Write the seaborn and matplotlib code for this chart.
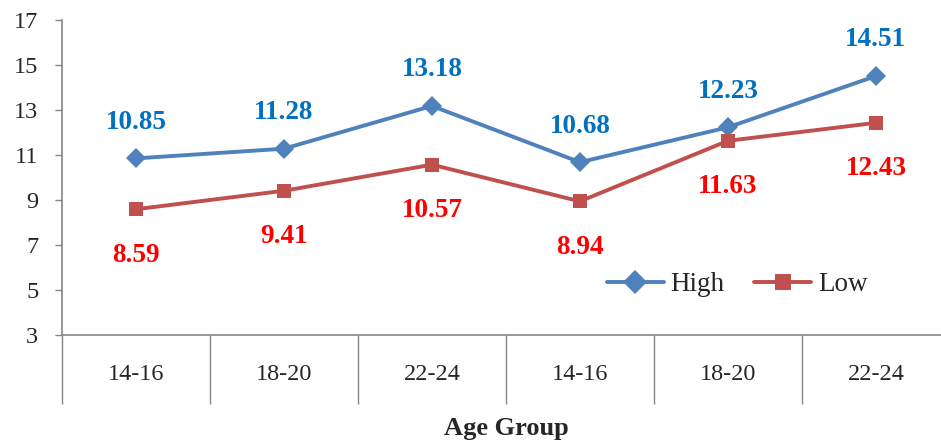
import pandas as pd               # data table
import matplotlib.pyplot as plt   # plotting
import seaborn as sns             # line plot

# values
age_groups = ["14-16", "18-20", "22-24", "14-16", "18-20", "22-24"]
high_vals = [10.85, 11.28, 13.18, 10.68, 12.23, 14.51]
low_vals = [8.59, 9.41, 10.57, 8.94, 11.63, 12.43]
y_ticks = [3, 5, 7, 9, 11, 13, 15, 17]

# long table for seaborn
pos = list(range(len(age_groups)))
df = pd.DataFrame({
    "pos": pos + pos,
    "value": high_vals + low_vals,
    "group": ["High"] * len(pos) + ["Low"] * len(pos),
})

sns.set_style("white")
plt.rcParams["font.family"] = ["Liberation Serif", "DejaVu Serif"]

fig = plt.figure(figsize=(9.41, 4.43), dpi=100)
ax = fig.add_axes([62 / 941, 1 - 335 / 443, 879 / 941, 315 / 443])

line_colors = {"High": "#4F81BD", "Low": "#C0504D"}
sns.lineplot(data=df, x="pos", y="value", hue="group", style="group",
             markers={"High": "D", "Low": "s"}, dashes=False,
             palette=line_colors, linewidth=2.8, markersize=10,
             markeredgewidth=0, ax=ax)

# data labels
for x, v in zip(pos, high_vals):
    ax.annotate(f"{v:.2f}", (x, v), xytext=(0, 26), textcoords="offset points",
                ha="center", va="center", color="#0070C0",
                fontsize=19.5, fontweight="bold")
for x, v in zip(pos, low_vals):
    ax.annotate(f"{v:.2f}", (x, v), xytext=(0, -33), textcoords="offset points",
                ha="center", va="center", color="#FF0000",
                fontsize=19.5, fontweight="bold")

# axes
ax.set_ylim(3, 17)
ax.set_yticks(y_ticks)
ax.set_xlim(-0.5, 5.44)
ax.set_xticks(pos)
ax.set_xticklabels(age_groups)
ax.set_xticks([p - 0.5 for p in pos], minor=True)
ax.tick_params(axis="x", which="major", length=0, pad=21, labelsize=17.5)
ax.tick_params(axis="x", which="minor", length=50, width=1, color="#868686",
               direction="out", bottom=True)
ax.tick_params(axis="y", length=5, width=1, color="#868686", left=True,
               direction="out", labelsize=17.5, pad=12)
ax.set_xlabel("")
ax.set_ylabel("")

for side in ["top", "right"]:
    ax.spines[side].set_visible(False)
for side in ["left", "bottom"]:
    ax.spines[side].set_color("#868686")
    ax.spines[side].set_linewidth(1.2)

fig.text(506 / 941, 1 - 428 / 443, "Age Group", ha="center", va="center",
         fontsize=19, fontweight="bold")

# legend
handles, labels = ax.get_legend_handles_labels()
ax.legend(handles[-2:], labels[-2:], loc="center",
          bbox_to_anchor=(0.768, 0.16), ncol=2, frameon=False,
          fontsize=19.5, handlelength=2.1, columnspacing=1.1, handletextpad=0.25,
          markerscale=1.2)

plt.savefig("out.png", dpi=100)
